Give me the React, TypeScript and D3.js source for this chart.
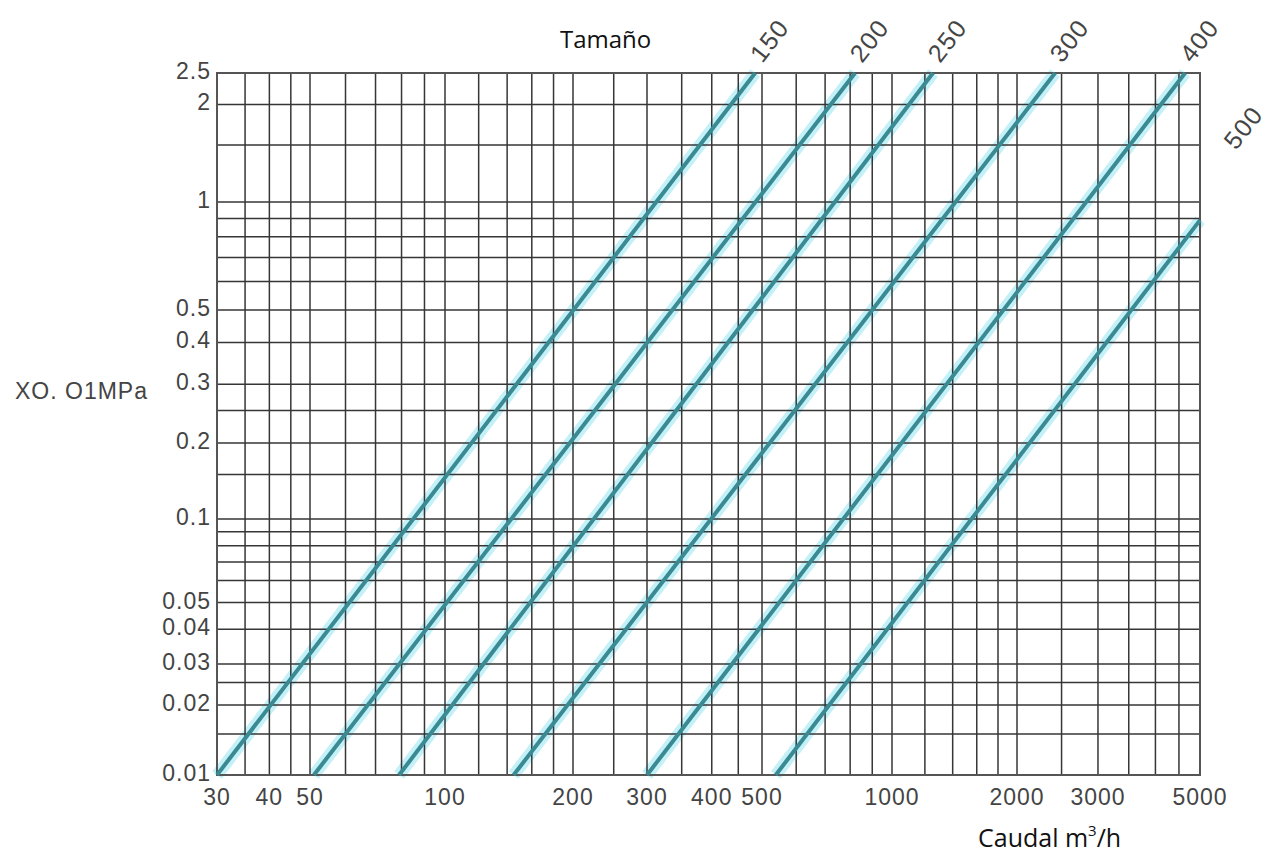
import * as d3 from "d3"

// valve sizes and their straight flow / pressure-drop lines (start at 0.01, end at top or right edge)
const sizes = ["150", "200", "250", "300", "400", "500"]
const flowStart = [30, 51, 79, 145, 300, 538]
const flowEnd = [485, 821, 1255, 2420, 4640, 5000]
const dropEnd = [2.5, 2.5, 2.5, 2.5, 2.5, 0.89]

const flowGrid = [
  30, 35, 40, 45, 50, 60, 70, 80, 90, 100, 120, 140, 160, 180, 200, 250, 300, 350, 400, 450, 500,
  600, 700, 800, 900, 1000, 1200, 1400, 1600, 1800, 2000, 2500, 3000, 3500, 4000, 4500, 5000,
]
const flowTicks = [30, 40, 50, 100, 200, 300, 400, 500, 1000, 2000, 3000, 5000]
const dropGrid = [
  0.01, 0.015, 0.02, 0.025, 0.03, 0.04, 0.05, 0.06, 0.07, 0.08, 0.09, 0.1, 0.15, 0.2, 0.25, 0.3,
  0.4, 0.5, 0.6, 0.7, 0.8, 0.9, 1, 1.5, 2, 2.5,
]
const dropTicks = [0.01, 0.02, 0.03, 0.04, 0.05, 0.1, 0.2, 0.3, 0.4, 0.5, 1, 2, 2.5]

const W = 1279
const H = 854

// the printed log paper is not quite even, so both scales are piecewise log
const x = d3
  .scaleLog()
  .domain([30, 50, 100, 200, 300, 500, 1000, 2000, 5000])
  .range([217, 310, 445, 573, 647, 762, 892, 1017, 1200])
const y = d3
  .scaleLog()
  .domain([0.01, 0.03, 0.1, 0.2, 0.5, 1, 2.5])
  .range([775, 664, 519, 443, 310, 202, 73])

const line = d3
  .line<[number, number]>()
  .x((d) => x(d[0]))
  .y((d) => y(d[1]))

const tickFont = {
  fontFamily: "'Liberation Sans', Arial, sans-serif",
  fontSize: 23,
  letterSpacing: 1,
  fill: "#444",
}

export default function App() {
  const left = x(30)
  const right = x(5000)
  const top = y(2.5)
  const bottom = y(0.01)
  const paths = sizes.map((_, i) =>
    line([
      [flowStart[i], 0.01],
      [flowEnd[i], dropEnd[i]],
    ])
  )

  return (
    <svg width={W} height={H} style={{ position: "absolute", left: 0, top: 0, background: "#fff" }}>
      {/* glow under the grid */}
      {paths.map((d, i) => (
        <path key={"g" + i} d={d || ""} fill="none" stroke="#c4f0f8" strokeWidth={12} />
      ))}

      {/* grid */}
      <g stroke="#363636" strokeWidth={1.5}>
        {flowGrid.map((v) => (
          <line key={"v" + v} x1={x(v)} x2={x(v)} y1={top} y2={bottom} />
        ))}
        {dropGrid.map((v) => (
          <line key={"h" + v} x1={left} x2={right} y1={y(v)} y2={y(v)} />
        ))}
      </g>
      <rect x={left} y={top} width={right - left} height={bottom - top} fill="none" stroke="#555" strokeWidth={2} />

      {/* size lines */}
      {paths.map((d, i) => (
        <path key={"c" + i} d={d || ""} fill="none" stroke="#3a8a94" strokeWidth={4} />
      ))}

      {/* y ticks */}
      {dropTicks.map((v) => (
        <text key={"yt" + v} x={left - 6} y={y(v)} textAnchor="end" dominantBaseline="middle" {...tickFont}>
          {v}
        </text>
      ))}

      {/* x ticks */}
      {flowTicks.map((v) => (
        <text key={"xt" + v} x={x(v)} y={bottom + 24} textAnchor="middle" dominantBaseline="middle" {...tickFont}>
          {v}
        </text>
      ))}

      {/* size labels */}
      {sizes.map((s, i) => {
        const last = i === sizes.length - 1
        const lx = last ? right + 36 : x(flowEnd[i]) + 7
        const ly = last ? y(1.5) + 6 : top - 9
        return (
          <text
            key={"s" + s}
            transform={`translate(${lx},${ly}) rotate(-52)`}
            {...tickFont}
            fontSize={25}
            letterSpacing={1.5}
          >
            {s}
          </text>
        )
      })}

      <text x={15} y={393} dominantBaseline="middle" {...tickFont}>
        XO. O1MPa
      </text>

      <text x={560} y={48} fontFamily="'Open Sans', sans-serif" fontSize={24} fill="#111">
        Tamaño
      </text>
      <text x={978} y={847} fontFamily="'Open Sans', sans-serif" fontSize={25} fill="#111">
        Caudal m
        <tspan fontSize={15} dy={-11}>
          3
        </tspan>
        <tspan dy={11}>/h</tspan>
      </text>
    </svg>
  )
}
